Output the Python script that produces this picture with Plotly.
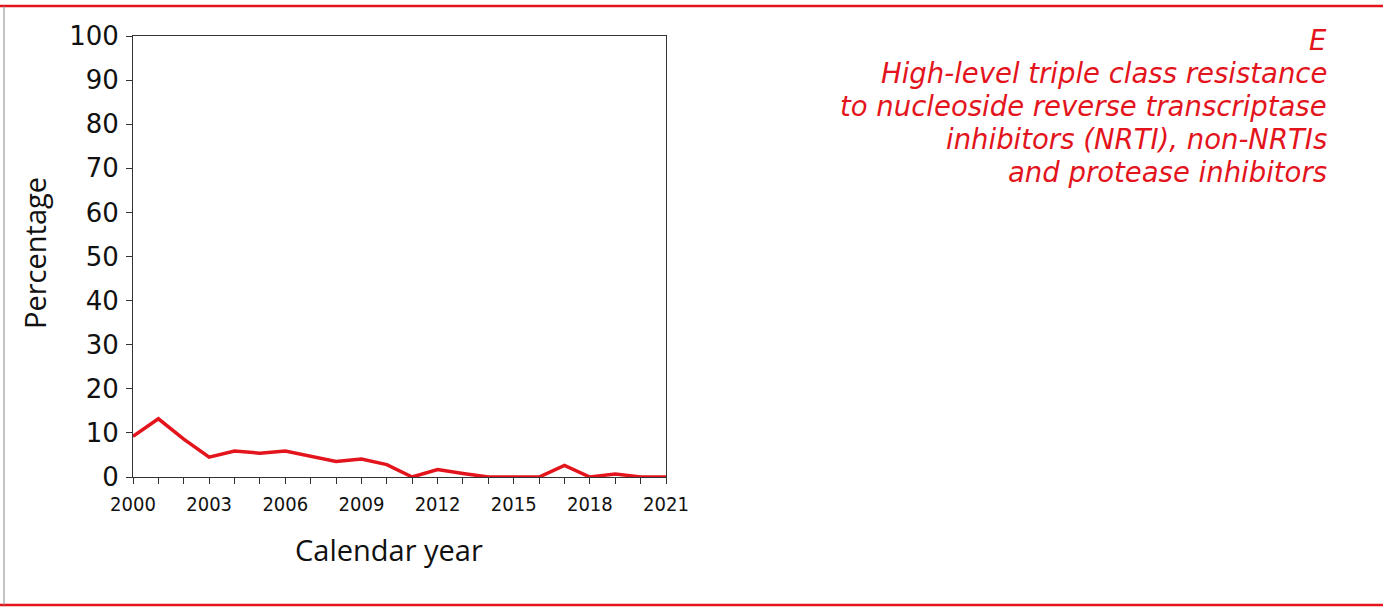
import plotly.graph_objects as go

W, H = 1383, 608

years = list(range(2000, 2022))
percentage = [9.2, 13.2, 8.6, 4.5, 5.9, 5.4, 5.9, 4.6, 3.5, 4.1, 2.8, 0.0,
              1.7, 0.8, 0.0, 0.0, 0.0, 2.6, 0.0, 0.7, 0.0, 0.0]
x_tick_vals = [2000, 2003, 2006, 2009, 2012, 2015, 2018, 2021]
y_tick_vals = list(range(0, 101, 10))

title_lines = [
    "E",
    "High-level triple class resistance",
    "to nucleoside reverse transcriptase",
    "inhibitors (NRTI), non-NRTIs",
    "and protease inhibitors",
]

RED = "#e3141c"

def px(x):
    return x / W

def py(y):
    return (H - y) / H

fig = go.Figure()
fig.add_trace(go.Scatter(
    x=years, y=percentage, mode="lines",
    line=dict(color=RED, width=3.5), showlegend=False, hoverinfo="x+y",
))

axis_common = dict(
    showgrid=False, zeroline=False, showline=True, linecolor="#333333",
    linewidth=1, mirror=True, ticks="outside", ticklen=6, tickcolor="#333333",
    automargin=False,
)

fig.update_layout(
    width=W, height=H, margin=dict(l=0, r=0, t=0, b=0, autoexpand=False),
    paper_bgcolor="white", plot_bgcolor="white",
    xaxis=dict(
        domain=[px(133), px(666)], range=[2000, 2021],
        tickvals=x_tick_vals, ticktext=[str(v) for v in x_tick_vals],
        tickfont=dict(family="DejaVu Sans Condensed, DejaVu Sans", size=20, color="#111111"),
        ticklabelstandoff=3,
        minor=dict(dtick=1, ticks="outside", ticklen=6, tickcolor="#333333"),
        **axis_common,
    ),
    yaxis=dict(
        domain=[py(477), py(36)], range=[0, 100],
        tickvals=y_tick_vals,
        tickfont=dict(family="DejaVu Sans", size=26, color="#111111"),
        ticklabelstandoff=2,
        **axis_common,
    ),
    shapes=[
        dict(type="line", xref="paper", yref="paper", x0=0, x1=1,
             y0=py(6), y1=py(6), line=dict(color=RED, width=2.5)),
        dict(type="line", xref="paper", yref="paper", x0=0, x1=1,
             y0=py(605), y1=py(605), line=dict(color=RED, width=2.5)),
        dict(type="line", xref="paper", yref="paper", x0=px(4), x1=px(4),
             y0=py(6), y1=py(605), line=dict(color="#888888", width=1)),
    ],
)

annotations = [
    dict(text="Calendar year", x=px(389), y=py(549), xref="paper", yref="paper",
         xanchor="center", yanchor="middle", showarrow=False,
         font=dict(family="Open Sans", size=29, color="#111111")),
    dict(text="Percentage", x=px(35), y=py(253), xref="paper", yref="paper",
         xanchor="center", yanchor="middle", showarrow=False, textangle=-90,
         font=dict(family="Open Sans", size=29, color="#111111")),
]
line_y = [40, 73, 106, 139, 172]
for txt, yc in zip(title_lines, line_y):
    annotations.append(dict(
        text="<i>" + txt + "</i>", x=px(1329), y=py(yc), xref="paper", yref="paper",
        xanchor="right", yanchor="middle", showarrow=False, align="right",
        font=dict(family="DejaVu Sans", size=27.5, color=RED),
    ))
fig.update_layout(annotations=annotations)

fig.write_html("out.html", config={"displayModeBar": False},
               post_script="document.body.style.margin='0px';")
